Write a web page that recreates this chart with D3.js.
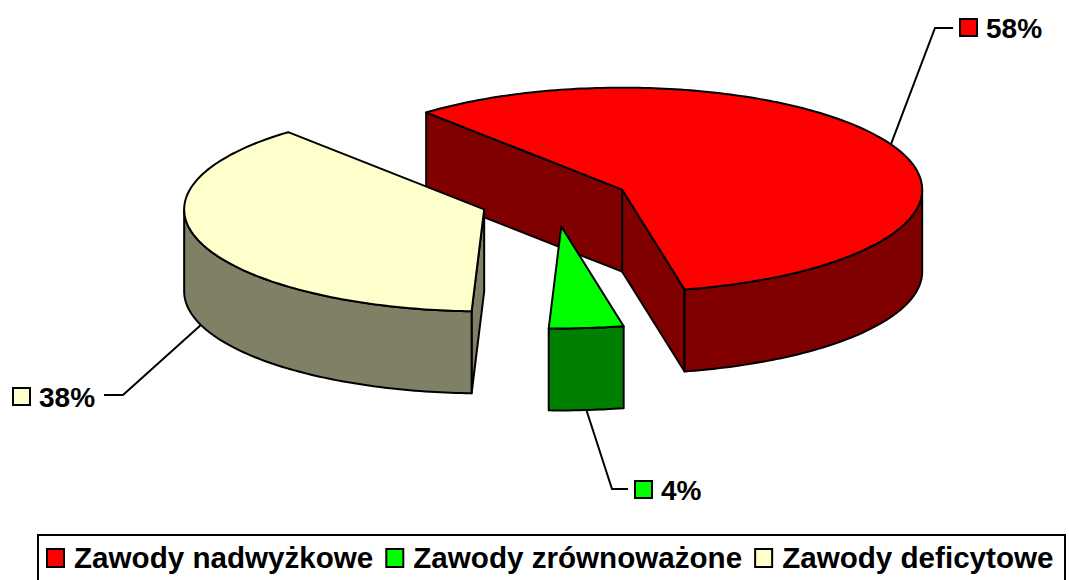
<!DOCTYPE html>
<html>
<head>
<meta charset="utf-8">
<script src="https://cdn.jsdelivr.net/npm/d3@7"></script>
<style>
  body { margin: 0; background: #fff; }
  text { font-family: "Liberation Sans", Arial, sans-serif; font-weight: bold; }
</style>
</head>
<body>
<div id="chart"></div>
<script>
// chart data
const categories = ["Zawody nadwyżkowe", "Zawody zrównoważone", "Zawody deficytowe"];
const shares = [58, 4, 38];
const topColors = ["#FF0000", "#00FF00", "#FFFFCC"];
const sideColors = ["#800000", "#008000", "#808066"];

const width = 1069;
const height = 580;

// 3d pie geometry
const cx = 555, cy = 201;
const rx = 300, ry = 102;
const depth = 82;
const explode = 0.25;
const rad = Math.PI / 180;

// where the percentage labels sit (key square top-left + leader elbow)
const labelLayout = [
    { key: [960, 19], elbow: [935, 28] },
    { key: [635, 481], elbow: [612, 489] },
    { key: [13, 388], elbow: [123, 395] }
];

const svg = d3.select("#chart")
    .append("svg")
    .attr("width", width)
    .attr("height", height);

const pie = d3.pie()
    .sort(null)
    .startAngle(-40.8 * rad)
    .endAngle((360 - 40.8) * rad);

const arcs = pie(shares).map((d, i) => {
    const mid = (d.startAngle + d.endAngle) / 2;
    return {
        ...d,
        i: i,
        mid: mid,
        cx: cx + explode * rx * Math.sin(mid),
        cy: cy - explode * ry * Math.cos(mid)
    };
});

// point on slice rim, dz = 0 top, depth bottom
const pt = (s, a, r, dz) => [s.cx + r * rx * Math.sin(a), s.cy - r * ry * Math.cos(a) + dz];

const line = d3.line();

const arcPoints = (s, a0, a1, dz) => {
    const n = Math.max(2, Math.ceil((a1 - a0) / rad));
    return d3.range(n + 1).map((k) => pt(s, a0 + (a1 - a0) * k / n, 1, dz));
};

// back slices first
const order = arcs.slice().sort((a, b) => a.cy - b.cy);

const g = svg.append("g")
    .attr("stroke", "black")
    .attr("stroke-width", 2)
    .attr("stroke-linejoin", "round");

order.forEach((s) => {
    const a0 = s.startAngle, a1 = s.endAngle;
    const side = sideColors[s.i];

    // radial walls
    const walls = [];
    if (Math.cos(a0 - Math.PI / 2) < 0) walls.push(a0);
    if (Math.cos(a1 + Math.PI / 2) < 0) walls.push(a1);
    walls.forEach((a) => {
        g.append("path")
            .attr("d", line([pt(s, a, 0, 0), pt(s, a, 1, 0), pt(s, a, 1, depth), pt(s, a, 0, depth)]) + "Z")
            .attr("fill", side);
    });

    // outer wall, only the part facing the viewer
    [0, 2 * Math.PI, -2 * Math.PI].forEach((shift) => {
        const lo = Math.max(a0, Math.PI / 2 + shift);
        const hi = Math.min(a1, 3 * Math.PI / 2 + shift);
        if (hi > lo) {
            const top = arcPoints(s, lo, hi, 0);
            const bottom = arcPoints(s, lo, hi, depth).reverse();
            g.append("path")
                .attr("d", line(top.concat(bottom)) + "Z")
                .attr("fill", side);
        }
    });

    // top face
    g.append("path")
        .attr("d", line([pt(s, 0, 0, 0)].concat(arcPoints(s, a0, a1, 0))) + "Z")
        .attr("fill", topColors[s.i]);
});

// percentage labels with leader lines
arcs.forEach((s) => {
    const lay = labelLayout[s.i];
    let m = s.mid % (2 * Math.PI);
    if (m < 0) m += 2 * Math.PI;
    const front = m > Math.PI / 2 && m < 3 * Math.PI / 2;
    const start = pt(s, s.mid, 1, front ? depth : 0);

    const lg = svg.append("g");
    const txt = lg.append("text")
        .attr("x", lay.key[0] + 26)
        .attr("y", lay.key[1] + 19)
        .attr("font-size", 28)
        .attr("fill", "black")
        .text(shares[s.i] + "%");

    let endX;
    if (lay.elbow[0] < lay.key[0]) {
        endX = lay.key[0] - 7;
    } else {
        endX = lay.key[0] + 26 + txt.node().getComputedTextLength() + 9;
    }

    lg.insert("path", "text")
        .attr("d", line([start, lay.elbow, [endX, lay.elbow[1]]]))
        .attr("fill", "none")
        .attr("stroke", "black")
        .attr("stroke-width", 2);

    lg.append("rect")
        .attr("x", lay.key[0])
        .attr("y", lay.key[1])
        .attr("width", 17)
        .attr("height", 17)
        .attr("fill", topColors[s.i])
        .attr("stroke", "black")
        .attr("stroke-width", 2);
});

// legend
svg.append("rect")
    .attr("x", 38)
    .attr("y", 535)
    .attr("width", 1027)
    .attr("height", 60)
    .attr("fill", "white")
    .attr("stroke", "black")
    .attr("stroke-width", 2);

let lx = 47;
categories.forEach((c, i) => {
    svg.append("rect")
        .attr("x", lx)
        .attr("y", 549)
        .attr("width", 17)
        .attr("height", 18)
        .attr("fill", topColors[i])
        .attr("stroke", "black")
        .attr("stroke-width", 2);
    const t = svg.append("text")
        .attr("x", lx + 27)
        .attr("y", 568)
        .attr("font-size", 29.6)
        .attr("fill", "black")
        .text(c);
    lx += 27 + t.node().getComputedTextLength() + 13;
});
</script>
</body>
</html>
